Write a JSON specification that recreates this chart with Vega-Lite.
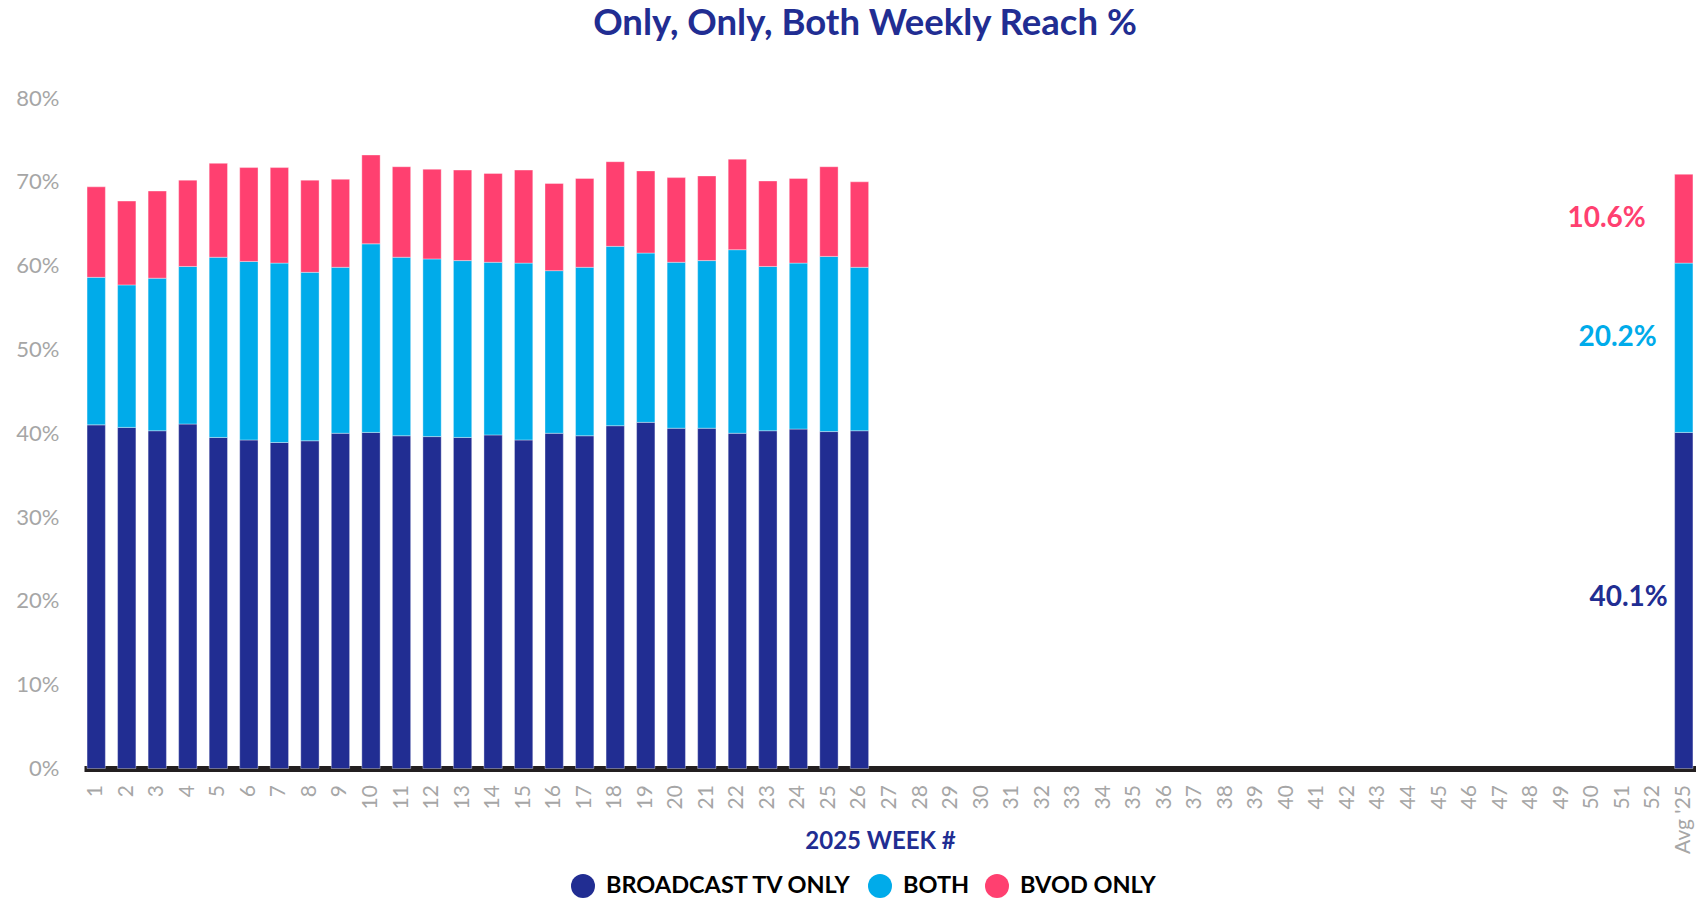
{
  "$schema": "https://vega.github.io/schema/vega-lite/v6.json",
  "autosize": {"type": "none"},
  "padding": {"left": 84, "top": 98, "right": 0, "bottom": 129.5},
  "width": 1612,
  "height": 670.5,
  "background": "white",
  "title": {
    "text": "Only, Only, Both Weekly Reach %",
    "font": "Lato",
    "fontSize": 36.5,
    "fontWeight": "bold",
    "color": "#212d92",
    "anchor": "middle",
    "frame": "group",
    "dx": -25,
    "offset": 45
  },
  "config": {
    "view": {"stroke": null},
    "axis": {"grid": false}
  },
  "data": {
    "values": [
      {"week": "1", "BROADCAST TV ONLY": 41.0, "BOTH": 17.6, "BVOD ONLY": 10.8},
      {"week": "2", "BROADCAST TV ONLY": 40.7, "BOTH": 17.0, "BVOD ONLY": 10.0},
      {"week": "3", "BROADCAST TV ONLY": 40.3, "BOTH": 18.2, "BVOD ONLY": 10.4},
      {"week": "4", "BROADCAST TV ONLY": 41.1, "BOTH": 18.8, "BVOD ONLY": 10.3},
      {"week": "5", "BROADCAST TV ONLY": 39.5, "BOTH": 21.5, "BVOD ONLY": 11.2},
      {"week": "6", "BROADCAST TV ONLY": 39.2, "BOTH": 21.3, "BVOD ONLY": 11.2},
      {"week": "7", "BROADCAST TV ONLY": 38.9, "BOTH": 21.4, "BVOD ONLY": 11.4},
      {"week": "8", "BROADCAST TV ONLY": 39.1, "BOTH": 20.1, "BVOD ONLY": 11.0},
      {"week": "9", "BROADCAST TV ONLY": 40.0, "BOTH": 19.8, "BVOD ONLY": 10.5},
      {"week": "10", "BROADCAST TV ONLY": 40.1, "BOTH": 22.5, "BVOD ONLY": 10.6},
      {"week": "11", "BROADCAST TV ONLY": 39.7, "BOTH": 21.3, "BVOD ONLY": 10.8},
      {"week": "12", "BROADCAST TV ONLY": 39.6, "BOTH": 21.2, "BVOD ONLY": 10.7},
      {"week": "13", "BROADCAST TV ONLY": 39.5, "BOTH": 21.1, "BVOD ONLY": 10.8},
      {"week": "14", "BROADCAST TV ONLY": 39.8, "BOTH": 20.6, "BVOD ONLY": 10.6},
      {"week": "15", "BROADCAST TV ONLY": 39.2, "BOTH": 21.1, "BVOD ONLY": 11.1},
      {"week": "16", "BROADCAST TV ONLY": 40.0, "BOTH": 19.4, "BVOD ONLY": 10.4},
      {"week": "17", "BROADCAST TV ONLY": 39.7, "BOTH": 20.1, "BVOD ONLY": 10.6},
      {"week": "18", "BROADCAST TV ONLY": 40.9, "BOTH": 21.4, "BVOD ONLY": 10.1},
      {"week": "19", "BROADCAST TV ONLY": 41.3, "BOTH": 20.2, "BVOD ONLY": 9.8},
      {"week": "20", "BROADCAST TV ONLY": 40.6, "BOTH": 19.8, "BVOD ONLY": 10.1},
      {"week": "21", "BROADCAST TV ONLY": 40.6, "BOTH": 20.0, "BVOD ONLY": 10.1},
      {"week": "22", "BROADCAST TV ONLY": 40.0, "BOTH": 21.9, "BVOD ONLY": 10.8},
      {"week": "23", "BROADCAST TV ONLY": 40.3, "BOTH": 19.6, "BVOD ONLY": 10.2},
      {"week": "24", "BROADCAST TV ONLY": 40.5, "BOTH": 19.8, "BVOD ONLY": 10.1},
      {"week": "25", "BROADCAST TV ONLY": 40.2, "BOTH": 20.9, "BVOD ONLY": 10.7},
      {"week": "26", "BROADCAST TV ONLY": 40.3, "BOTH": 19.5, "BVOD ONLY": 10.2},
      {"week": "Avg '25", "BROADCAST TV ONLY": 40.1, "BOTH": 20.2, "BVOD ONLY": 10.6}
    ]
  },
  "transform": [
    {"fold": ["BROADCAST TV ONLY", "BOTH", "BVOD ONLY"], "as": ["series", "value"]},
    {"calculate": "indexof(['BROADCAST TV ONLY', 'BOTH', 'BVOD ONLY'], datum.series)", "as": "ord"}
  ],
  "layer": [
    {
      "mark": {"type": "bar", "stroke": "#ffffff", "strokeWidth": 0.6, "strokeOpacity": 0.6},
      "encoding": {
        "x": {
          "field": "week",
          "type": "nominal",
          "sort": null,
          "scale": {
            "domain": ["1","2","3","4","5","6","7","8","9","10","11","12","13","14","15","16","17","18","19","20","21","22","23","24","25","26","27","28","29","30","31","32","33","34","35","36","37","38","39","40","41","42","43","44","45","46","47","48","49","50","51","52","Avg '25"],
            "paddingInner": 0.4,
            "paddingOuter": 0.1
          },
          "axis": {
            "title": "2025 WEEK #",
            "titleFont": "Lato",
            "titleFontSize": 24,
            "titleFontWeight": "bold",
            "titleColor": "#212d92",
            "titleAnchor": "middle",
            "titleBaseline": "middle",
            "titleX": 796,
            "titleY": 72.5,
            "labelAngle": 270,
            "labelFont": "Lato",
            "labelFontSize": 21,
            "labelColor": "#a6a6a6",
            "labelPadding": 16,
            "labelOverlap": false,
            "labelBound": false,
            "ticks": false,
            "tickSize": 0,
            "domainColor": "#231f20",
            "domainWidth": 6
          }
        },
        "y": {
          "field": "value",
          "type": "quantitative",
          "stack": "zero",
          "scale": {"domain": [0, 80], "nice": false},
          "axis": {
            "title": null,
            "values": [0, 10, 20, 30, 40, 50, 60, 70, 80],
            "labelExpr": "datum.value + '%'",
            "labelFont": "Lato",
            "labelFontSize": 22,
            "labelColor": "#a6a6a6",
            "labelPadding": 25,
            "ticks": false,
            "tickSize": 0,
            "domain": false
          }
        },
        "color": {
          "field": "series",
          "type": "nominal",
          "scale": {
            "domain": ["BROADCAST TV ONLY", "BOTH", "BVOD ONLY"],
            "range": ["#212d92", "#00abea", "#ff4070"]
          },
          "legend": {
            "title": null,
            "orient": "none",
            "direction": "horizontal",
            "legendX": 487,
            "legendY": 776,
            "symbolType": "circle",
            "symbolSize": 576,
            "symbolStrokeWidth": 0,
            "labelFont": "Lato",
            "labelFontSize": 23.5,
            "labelFontWeight": "bold",
            "labelOffset": 11,
            "columnPadding": 15,
            "labelLimit": 400,
            "encode": {
              "labels": {"update": {"fill": {"scale": "color", "field": "value"}}}
            }
          }
        },
        "order": {"field": "ord", "type": "quantitative"}
      }
    },
    {
      "transform": [
        {"filter": "datum.week == \"Avg '25\""},
        {"stack": "value", "groupby": ["week"], "sort": [{"field": "ord", "order": "ascending"}], "as": ["y0", "y1"]},
        {"calculate": "(datum.y0 + datum.y1) / 2", "as": "mid"},
        {"calculate": "format(datum.value, '.1f') + '%'", "as": "lbl"},
        {"filter": "datum.series == 'BROADCAST TV ONLY'"}
      ],
      "mark": {"type": "text", "align": "right", "baseline": "middle", "font": "Lato", "fontSize": 28, "fontWeight": "bold", "color": "#212d92", "dx": -16, "dy": -2},
      "encoding": {
        "x": {"field": "week", "type": "nominal", "sort": null},
        "y": {"field": "mid", "type": "quantitative"},
        "text": {"field": "lbl"}
      }
    },
    {
      "transform": [
        {"filter": "datum.week == \"Avg '25\""},
        {"stack": "value", "groupby": ["week"], "sort": [{"field": "ord", "order": "ascending"}], "as": ["y0", "y1"]},
        {"calculate": "(datum.y0 + datum.y1) / 2", "as": "mid"},
        {"calculate": "format(datum.value, '.1f') + '%'", "as": "lbl"},
        {"filter": "datum.series == 'BOTH'"}
      ],
      "mark": {"type": "text", "align": "right", "baseline": "middle", "font": "Lato", "fontSize": 28, "fontWeight": "bold", "color": "#00abea", "dx": -27, "dy": -10},
      "encoding": {
        "x": {"field": "week", "type": "nominal", "sort": null},
        "y": {"field": "mid", "type": "quantitative"},
        "text": {"field": "lbl"}
      }
    },
    {
      "transform": [
        {"filter": "datum.week == \"Avg '25\""},
        {"stack": "value", "groupby": ["week"], "sort": [{"field": "ord", "order": "ascending"}], "as": ["y0", "y1"]},
        {"calculate": "(datum.y0 + datum.y1) / 2", "as": "mid"},
        {"calculate": "format(datum.value, '.1f') + '%'", "as": "lbl"},
        {"filter": "datum.series == 'BVOD ONLY'"}
      ],
      "mark": {"type": "text", "align": "right", "baseline": "middle", "font": "Lato", "fontSize": 28, "fontWeight": "bold", "color": "#ff4070", "dx": -38, "dy": 0},
      "encoding": {
        "x": {"field": "week", "type": "nominal", "sort": null},
        "y": {"field": "mid", "type": "quantitative"},
        "text": {"field": "lbl"}
      }
    }
  ]
}
